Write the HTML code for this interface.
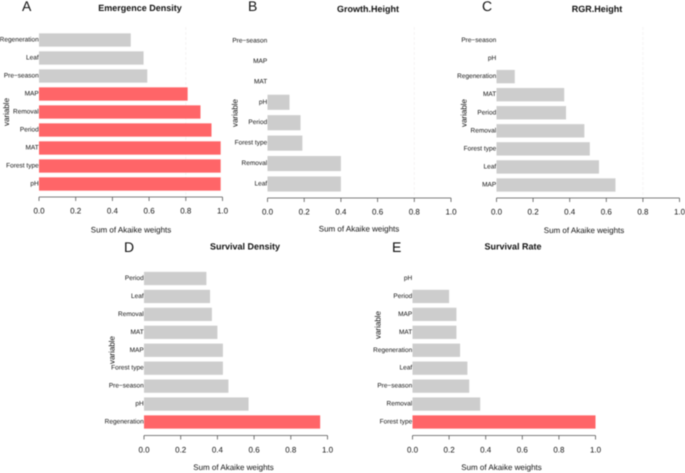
<!DOCTYPE html>
<html>
<head>
<meta charset="utf-8">
<style>
html,body{margin:0;padding:0;background:#fff;width:685px;height:473px;overflow:hidden}
svg{display:block;filter:blur(0.4px)}
text{font-family:"Liberation Sans",sans-serif;fill:#111;text-rendering:geometricPrecision}
</style>
</head>
<body>
<svg id="figure" xmlns="http://www.w3.org/2000/svg" width="685" height="473" viewBox="0 0 685 473"></svg>
<script>
var titles = ["Emergence Density", "Growth.Height", "RGR.Height", "Survival Density", "Survival Rate"];
var panelLetters = ["A", "B", "C", "D", "E"];
var xTickValues = [0, 0.2, 0.4, 0.6, 0.8, 1];
var xAxisTitle = "Sum of Akaike weights";
var yAxisTitle = "variable";
var importanceThreshold = 0.8;

var categoriesA = ["Regeneration", "Leaf", "Pre\u2212season", "MAP", "Removal", "Period", "MAT", "Forest type", "pH"];
var valuesA = [0.5, 0.57, 0.59, 0.81, 0.88, 0.94, 0.99, 0.99, 0.99];

var categoriesB = ["Pre\u2212season", "MAP", "MAT", "pH", "Period", "Forest type", "Removal", "Leaf"];
var valuesB = [0, 0, 0, 0.12, 0.18, 0.19, 0.4, 0.4];

var categoriesC = ["Pre\u2212season", "pH", "Regeneration", "MAT", "Period", "Removal", "Forest type", "Leaf", "MAP"];
var valuesC = [0, 0, 0.1, 0.37, 0.38, 0.48, 0.51, 0.56, 0.65];

var categoriesD = ["Period", "Leaf", "Removal", "MAT", "MAP", "Forest type", "Pre\u2212season", "pH", "Regeneration"];
var valuesD = [0.34, 0.36, 0.37, 0.4, 0.43, 0.43, 0.46, 0.57, 0.96];

var categoriesE = ["pH", "Period", "MAP", "MAT", "Regeneration", "Leaf", "Pre\u2212season", "Removal", "Forest type"];
var valuesE = [0, 0.2, 0.24, 0.24, 0.26, 0.3, 0.31, 0.37, 1];

var categorySets = [categoriesA, categoriesB, categoriesC, categoriesD, categoriesE];
var valueSets = [valuesA, valuesB, valuesC, valuesD, valuesE];

var layouts = [
  {x0:39, x1:222.5, first:40, last:184, axisY:197, tickLabelY:211, xTitleX:131, xTitleY:230, titleX:140, titleY:8, letterX:22, letterY:6, yTitleX:6.5, yTitleY:112, refLine:true},
  {x0:267.5, x1:451, first:41, last:184, axisY:198, tickLabelY:212, xTitleX:359, xTitleY:229, titleX:368, titleY:9, letterX:248, letterY:6, yTitleX:235, yTitleY:113, refLine:true},
  {x0:496.5, x1:679.5, first:40.5, last:185, axisY:198, tickLabelY:212, xTitleX:584, xTitleY:230.5, titleX:597, titleY:9, letterX:482, letterY:6, yTitleX:464, yTitleY:113, refLine:true},
  {x0:144, x1:327.5, first:278.5, last:422, axisY:435.5, tickLabelY:450, xTitleX:233.5, xTitleY:467.5, titleX:245, titleY:246.5, letterX:124, letterY:247, yTitleX:112, yTitleY:350, refLine:false},
  {x0:412.5, x1:595.5, first:278.5, last:422, axisY:435.5, tickLabelY:450, xTitleX:501.5, xTitleY:467.5, titleX:513, titleY:246.5, letterX:392, letterY:247, yTitleX:378, yTitleY:325, refLine:false}
];

var NS = "http://www.w3.org/2000/svg";
var figure = document.getElementById("figure");

function make(parent, tag, attrs, content) {
  var node = document.createElementNS(NS, tag);
  for (var key in attrs) { node.setAttribute(key, attrs[key]); }
  if (content !== undefined) { node.textContent = content; }
  parent.appendChild(node);
  return node;
}

function xScale(layout, value) {
  return layout.x0 + value * (layout.x1 - layout.x0);
}

function yScale(layout, index, count) {
  return layout.first + index * (layout.last - layout.first) / (count - 1);
}

function slug(text) {
  return text.toLowerCase().replace(/[^a-z0-9]+/g, "-");
}

function drawPanel(panelIndex) {
  var layout = layouts[panelIndex];
  var categories = categorySets[panelIndex];
  var values = valueSets[panelIndex];
  var letter = panelLetters[panelIndex].toLowerCase();
  var count = categories.length;
  var step = (layout.last - layout.first) / (count - 1);
  var barHeight = step * 0.74;

  var group = make(figure, "g", {});
  
  

  var letterNode = make(group, "text", {x:layout.letterX, y:layout.letterY, "font-size":14, "dominant-baseline":"central"}, panelLetters[panelIndex]);
  
  

  var titleNode = make(group, "text", {x:layout.titleX, y:layout.titleY, "font-size":9, "font-weight":"bold", "text-anchor":"middle", "dominant-baseline":"central"}, titles[panelIndex]);
  
  

  if (layout.refLine) {
    var ref = make(group, "line", {x1:xScale(layout, 0.8), x2:xScale(layout, 0.8), y1:27, y2:layout.axisY - 2, stroke:"#f3f0f0", "stroke-width":0.8, "stroke-dasharray":"3 2"});
    
    
  }

  values.forEach(function (value, i) {
    var cy = yScale(layout, i, count);
    var bar = make(group, "rect", {
      x: xScale(layout, 0),
      y: cy - barHeight / 2,
      width: xScale(layout, value) - xScale(layout, 0),
      height: barHeight,
      fill: value >= importanceThreshold ? "#ff6568" : "#cdcdcd"
    });
    
    

    var label = make(group, "text", {x:layout.x0 - 0.3, y:cy, "font-size":6.5, "text-anchor":"end", "dominant-baseline":"central"}, categories[i]);
    
    
  });

  var axis = make(group, "line", {x1:xScale(layout, 0), x2:xScale(layout, 1), y1:layout.axisY, y2:layout.axisY, stroke:"#555", "stroke-width":0.8});
  
  

  xTickValues.forEach(function (value) {
    var tx = xScale(layout, value);
    var tick = make(group, "line", {x1:tx, x2:tx, y1:layout.axisY, y2:layout.axisY + 4, stroke:"#555", "stroke-width":0.8});
    
    

    var tickLabel = make(group, "text", {x:tx, y:layout.tickLabelY, "font-size":8, "text-anchor":"middle", "dominant-baseline":"central"}, value.toFixed(1));
    
    
  });

  var xTitle = make(group, "text", {x:layout.xTitleX, y:layout.xTitleY, "font-size":8, "text-anchor":"middle", "dominant-baseline":"central"}, xAxisTitle);
  
  

  var yTitle = make(group, "text", {x:layout.yTitleX, y:layout.yTitleY, "font-size":8, "text-anchor":"middle", "dominant-baseline":"central", transform:"rotate(-90 " + layout.yTitleX + " " + layout.yTitleY + ")"}, yAxisTitle);
  
  
}

for (var p = 0; p < layouts.length; p++) { drawPanel(p); }
</script>
</body>
</html>
